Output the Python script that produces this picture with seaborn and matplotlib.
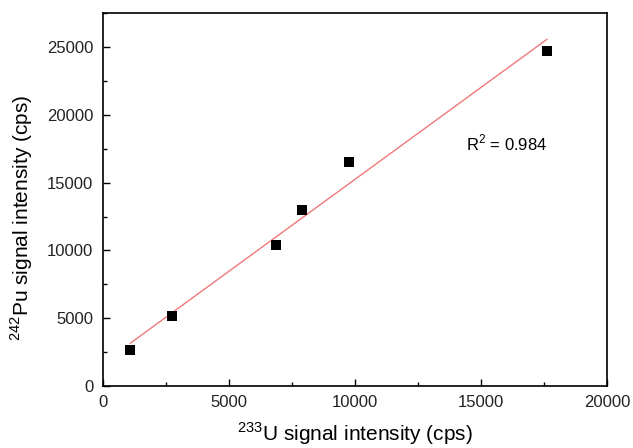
import numpy as np
import pandas as pd
import matplotlib
matplotlib.use("Agg")
import matplotlib.pyplot as plt
import seaborn as sns
from matplotlib.ticker import AutoMinorLocator

u233 = [1070, 2740, 6870, 7900, 9760, 17620]
pu242 = [2650, 5150, 10440, 13000, 16540, 24700]
r2_label = "R$^2$ = 0.984"

df = pd.DataFrame({"u": u233, "pu": pu242})

sns.set_style("ticks")
plt.rcParams["font.family"] = ["Liberation Sans", "DejaVu Sans"]
plt.rcParams["mathtext.fontset"] = "custom"
plt.rcParams["mathtext.rm"] = "Liberation Sans"
plt.rcParams["text.color"] = "black"
plt.rcParams["axes.labelcolor"] = "black"

fig = plt.figure(figsize=(6.33, 4.48), dpi=100)
ax = fig.add_axes([0.163, 0.138, 0.796, 0.833])

sns.regplot(data=df, x="u", y="pu", ci=None, ax=ax,
            marker="s",
            scatter_kws={"color": "black", "s": 45, "alpha": 1, "linewidths": 0, "zorder": 3},
            line_kws={"color": "#f07878", "lw": 1})

ax.set_xlim(0, 20000)
ax.set_ylim(0, 27500)
ax.set_xticks([0, 5000, 10000, 15000, 20000])
ax.set_yticks([0, 5000, 10000, 15000, 20000, 25000])
ax.xaxis.set_minor_locator(AutoMinorLocator(2))
ax.yaxis.set_minor_locator(AutoMinorLocator(2))
ax.tick_params(which="both", direction="in", labelsize=12, width=1,
               colors="black", labelcolor="#222222", top=False, right=False)
ax.tick_params(which="major", length=5)
ax.tick_params(which="minor", length=3)
ax.tick_params(axis="y", which="major", pad=7)
ax.tick_params(axis="x", which="major", pad=6)
for s in ax.spines.values():
    s.set_linewidth(1.2)
    s.set_color("black")

ax.set_xlabel("$^{233}$U signal intensity (cps)", fontsize=15)
ax.set_ylabel("$^{242}$Pu signal intensity (cps)", fontsize=15)
ax.xaxis.set_label_coords(0.5, -0.092)
ax.yaxis.set_label_coords(-0.135, 0.45)
ax.text(14400, 17900, r2_label, fontsize=12, va="center")

fig.savefig("out.png", dpi=100)
